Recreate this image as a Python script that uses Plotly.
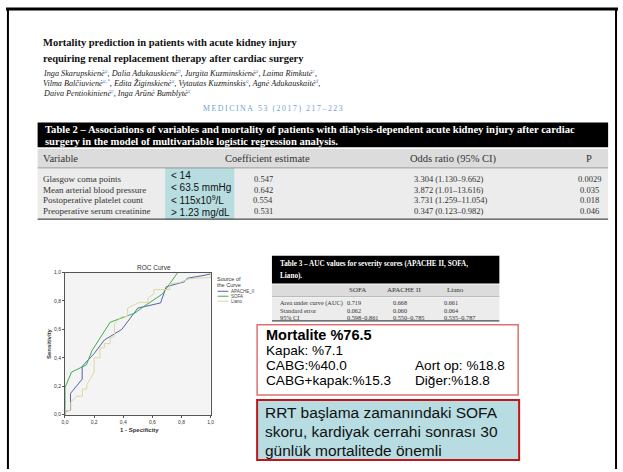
import plotly.graph_objects as go

# ---------------- DATA ----------------
paper_title = ["Mortality prediction in patients with acute kidney injury",
               "requiring renal replacement therapy after cardiac surgery"]
authors = [
    "Inga Skarupskienė<sup>a</sup>, Dalia Adukauskienė<sup>b</sup>, Jurgita Kuzminskienė<sup>a</sup>, Laima Rimkutė<sup>c</sup>,",
    "Vilma Balčiuvienė<sup>a,*</sup>, Edita Žiginskienė<sup>a</sup>, Vytautas Kuzminskis<sup>a</sup>, Agnė Adukauskaitė<sup>d</sup>,",
    "Daiva Pentiokinienė<sup>e</sup>, Inga Arūnė Bumblytė<sup>a</sup>",
]
journal = "MEDICINA 53 (2017) 217–223"

t2_caption = ["Table 2 – Associations of variables and mortality of patients with dialysis-dependent acute kidney injury after cardiac",
              "surgery in the model of multivariable logistic regression analysis."]
t2_columns = ["Variable", "Coefficient estimate", "Odds ratio (95% CI)", "P"]
t2_variables = ["Glasgow coma points", "Mean arterial blood pressure",
                "Postoperative platelet count", "Preoperative serum creatinine"]
t2_cutoffs = ["< 14", "< 63.5 mmHg", "< 115x10<sup>9</sup>/L", "> 1.23 mg/dL"]
t2_coef = ["0.547", "0.642", "0.554", "0.531"]
t2_odds = ["3.304 (1.130–9.662)", "3.872 (1.01–13.616)", "3.731 (1.259–11.054)", "0.347 (0.123–0.982)"]
t2_p = ["0.0029", "0.035", "0.018", "0.046"]

t3_caption = ["Table 3 – AUC values for severity scores (APACHE II, SOFA,", "Liano)."]
t3_columns = ["SOFA", "APACHE II", "Liano"]
t3_rows = ["Area under curve (AUC)", "Standard error", "95% CI"]
t3_sofa = ["0.719", "0.062", "0.598–0.861"]
t3_apache = ["0.668", "0.060", "0.550–0.785"]
t3_liano = ["0.661", "0.064", "0.535–0.787"]

roc_title = "ROC Curve"
roc_series = ["APACHE_II", "SOFA", "Liano"]
roc_colors = ["#5464a8", "#3fae4f", "#ddd6a6"]
apache_fpr = [0, 0, 0.038, 0.038, 0.118, 0.118, 0.20, 0.27, 0.39, 0.50, 0.656, 0.695, 0.82, 0.84, 0.955, 1.0]
apache_tpr = [0, 0.025, 0.03, 0.15, 0.25, 0.34, 0.43, 0.525, 0.60, 0.75, 0.786, 0.90, 0.935, 0.96, 0.98, 0.99]
sofa_fpr = [0, 0, 0.045, 0.147, 0.185, 0.31, 0.48, 0.54, 0.67, 0.774, 1.0]
sofa_tpr = [0, 0.19, 0.30, 0.35, 0.45, 0.65, 0.715, 0.76, 0.85, 1.0, 1.0]
liano_fpr = [0, 0, 0.04, 0.04, 0.08, 0.12, 0.12, 0.15, 0.15, 0.20, 0.20, 0.24, 0.24, 0.27, 0.27, 0.31,
             0.31, 0.34, 0.34, 0.39, 0.43, 0.43, 0.47, 0.51, 0.57, 0.57, 0.61, 0.61, 0.72, 0.72, 0.79,
             0.85, 0.90, 0.97, 1.0, 1.0]
liano_tpr = [0, 0.03, 0.03, 0.09, 0.13, 0.13, 0.18, 0.18, 0.21, 0.30, 0.40, 0.40, 0.47, 0.47, 0.50, 0.50,
             0.54, 0.55, 0.64, 0.69, 0.69, 0.75, 0.77, 0.79, 0.79, 0.82, 0.85, 0.88, 0.88, 0.92, 0.93,
             0.955, 0.96, 0.965, 0.965, 1.0]
roc_ticks = [0, 0.2, 0.4, 0.6, 0.8, 1.0]
roc_ticklabels = ["0,0", "0,2", "0,4", "0,6", "0,8", "1,0"]
roc_xlabel = "1 - Specificity"
roc_ylabel = "Sensitivity"
roc_legend_title = ["Source of", "the Curve"]

mort_head = "Mortalite %76.5"
mort_left = ["Kapak: %7.1", "CABG:%40.0", "CABG+kapak:%15.3"]
mort_right = ["Aort op: %18.8", "Diğer:%18.8"]
conclusion = ["RRT başlama zamanındaki SOFA", "skoru, kardiyak cerrahi sonrası 30", "günlük mortalitede önemli"]

# ---------------- HELPERS ----------------
W, H = 623, 472
SERIF = "Liberation Serif"
SANS = "Liberation Sans"


def px(x):
    return x / W


def py(y):
    return 1 - y / H


shapes = []
annotations = []


def rect(x0, y0, x1, y1, fill=None, line=None, lw=0):
    shapes.append(dict(type="rect", xref="paper", yref="paper", x0=px(x0), x1=px(x1), y0=py(y1), y1=py(y0),
                       fillcolor=fill if fill else "rgba(0,0,0,0)",
                       line=dict(color=line if line else "rgba(0,0,0,0)", width=lw), layer="below"))


def hline(x0, x1, y, color, lw):
    shapes.append(dict(type="line", xref="paper", yref="paper", x0=px(x0), x1=px(x1), y0=py(y), y1=py(y),
                       line=dict(color=color, width=lw)))


def vline(x, y0, y1, color, lw):
    shapes.append(dict(type="line", xref="paper", yref="paper", x0=px(x), x1=px(x), y0=py(y0), y1=py(y1),
                       line=dict(color=color, width=lw)))


def txt(x, y, s, size, color="#000", family=SERIF, xanchor="left", angle=0):
    annotations.append(dict(xref="paper", yref="paper", x=px(x), y=py(y), text=s, showarrow=False,
                            xanchor=xanchor, yanchor="middle", textangle=angle,
                            font=dict(size=size, color=color, family=family)))


# ---------------- FIGURE ----------------
fig = go.Figure()
for name, fx, ty, col in zip(roc_series, [apache_fpr, sofa_fpr, liano_fpr],
                             [apache_tpr, sofa_tpr, liano_tpr], roc_colors):
    fig.add_trace(go.Scatter(x=fx, y=ty, mode="lines", name=name, line=dict(color=col, width=1),
                             showlegend=False, hoverinfo="skip"))

# slide border
hline(3, 622, 6, "#000", 3)
vline(5, 5, 472, "#000", 2)
vline(620, 5, 472, "#000", 2)

# paper header
txt(38, 40, "<b>" + paper_title[0] + "</b>", 10.5, "#111")
txt(38, 56, "<b>" + paper_title[1] + "</b>", 10.5, "#111")
sup_col = "#6a9fd0"
for i, a in enumerate(authors):
    a2 = a.replace("<sup>", "<sup><span style='color:%s'>" % sup_col).replace("</sup>", "</span></sup>")
    txt(38, 71 + i * 10.3, "<i>" + a2 + "</i>", 8.2, "#222")
journal_spaced = "\u2009".join(list(journal))
txt(273, 107, journal_spaced, 7.8, "#6fa3cf", xanchor="center")

# Table 2
rect(35, 121, 612, 146, fill="#000")
txt(40, 128.5, "<b>" + t2_caption[0] + "</b>", 10.6, "#fff")
txt(40, 140, "<b>" + t2_caption[1] + "</b>", 10.6, "#fff")
rect(35, 148, 612, 166, fill="#dcdcdc")
rect(35, 168, 612, 218, fill="#ececec")
hline(35, 612, 167, "#888", 1)
hline(35, 612, 219, "#444", 1.2)
txt(38, 158, t2_columns[0], 10.5, "#333")
txt(267, 158, t2_columns[1], 10.5, "#333", xanchor="center")
txt(456, 158, t2_columns[2], 10.5, "#333", xanchor="center")
txt(593, 158, t2_columns[3], 10.5, "#333", xanchor="center")
rect(164, 167, 234, 219, fill="#b7dde1")
for i in range(len(t2_variables)):
    y = 178 + i * 11
    txt(38, y, t2_variables[i], 9, "#333")
    txt(263, y, t2_coef[i], 8.5, "#333", xanchor="center")
    txt(414, y, t2_odds[i], 8.5, "#333")
    txt(593, y, t2_p[i], 8.5, "#333", xanchor="center")
    txt(168, 175 + i * 12.3, t2_cutoffs[i], 10, "#111", family=SANS)

# Table 3
rect(272, 256, 502, 284, fill="#000")
txt(278, 264, "<b>" + t3_caption[0] + "</b>", 7.2, "#fff")
txt(278, 276.5, "<b>" + t3_caption[1] + "</b>", 7.2, "#fff")
rect(272, 285, 502, 296, fill="#dcdcdc")
rect(272, 298, 502, 321, fill="#ececec")
hline(272, 502, 297, "#888", 0.8)
hline(272, 502, 322, "#444", 1.2)
val_x = [346, 392, 444]
head_x = [359, 406, 458]
for j, c in enumerate(t3_columns):
    txt(head_x[j], 291, c, 7, "#333", xanchor="center")
for i, r in enumerate(t3_rows):
    y = 303.5 + i * 7.5
    txt(278, y, r, 6.3, "#333")
    for j, col in enumerate([t3_sofa, t3_apache, t3_liano]):
        txt(val_x[j], y, col[i], 6.3, "#333")

# Mortality box
rect(257, 326, 521, 397, fill="#fff", line="#e07070", lw=1.5)
txt(264, 336, "<b>" + mort_head + "</b>", 14.5, "#000", family=SANS)
for i, s in enumerate(mort_left):
    txt(264, 352 + i * 15, s, 13.6, "#000", family=SANS)
for i, s in enumerate(mort_right):
    txt(415, 367 + i * 15, s, 13.6, "#000", family=SANS)

# Conclusion box
rect(257, 402, 522, 463, fill="#b7dde2", line="#c0161c", lw=2)
for i, s in enumerate(conclusion):
    txt(263, 415 + i * 19, s, 15.5, "#111", family=SANS)

# ROC chart text
txt(153, 268, roc_title, 6.5, "#333", family=SANS, xanchor="center")
txt(138, 432, "<b>" + roc_xlabel + "</b>", 6, "#333", family=SANS, xanchor="center")
txt(46, 345, "<b>" + roc_ylabel + "</b>", 6, "#333", family=SANS, xanchor="center", angle=-90)
txt(229, 280, roc_legend_title[0], 5.5, "#333", family=SANS, xanchor="center")
txt(229, 286, roc_legend_title[1], 5.5, "#333", family=SANS, xanchor="center")
for i, (n, c) in enumerate(zip(roc_series, roc_colors)):
    yy = 292 + i * 5
    hline(217, 228, yy, c, 1)
    txt(229, yy, n, 4.5, "#444", family=SANS)

fig.update_layout(
    width=W, height=H, margin=dict(l=0, r=0, t=0, b=0),
    paper_bgcolor="#fff", plot_bgcolor="#f4f4f4",
    shapes=shapes, annotations=annotations, showlegend=False,
    xaxis=dict(domain=[px(62.7), px(210)], range=[0, 1], tickvals=roc_ticks, ticktext=roc_ticklabels,
               ticks="outside", ticklen=2, tickcolor="#555", showgrid=False, zeroline=False,
               showline=True, mirror=True, linecolor="#555", linewidth=1,
               tickfont=dict(size=5, family=SANS, color="#333")),
    yaxis=dict(domain=[py(417), py(273)], range=[0, 1], tickvals=roc_ticks, ticktext=roc_ticklabels,
               ticks="outside", ticklen=2, tickcolor="#555", showgrid=False, zeroline=False,
               showline=True, mirror=True, linecolor="#555", linewidth=1,
               tickfont=dict(size=5, family=SANS, color="#333")),
)
fig.write_html("out.html", config={"displayModeBar": False},
               post_script="document.body.style.margin='0px';document.body.style.padding='0px';")
